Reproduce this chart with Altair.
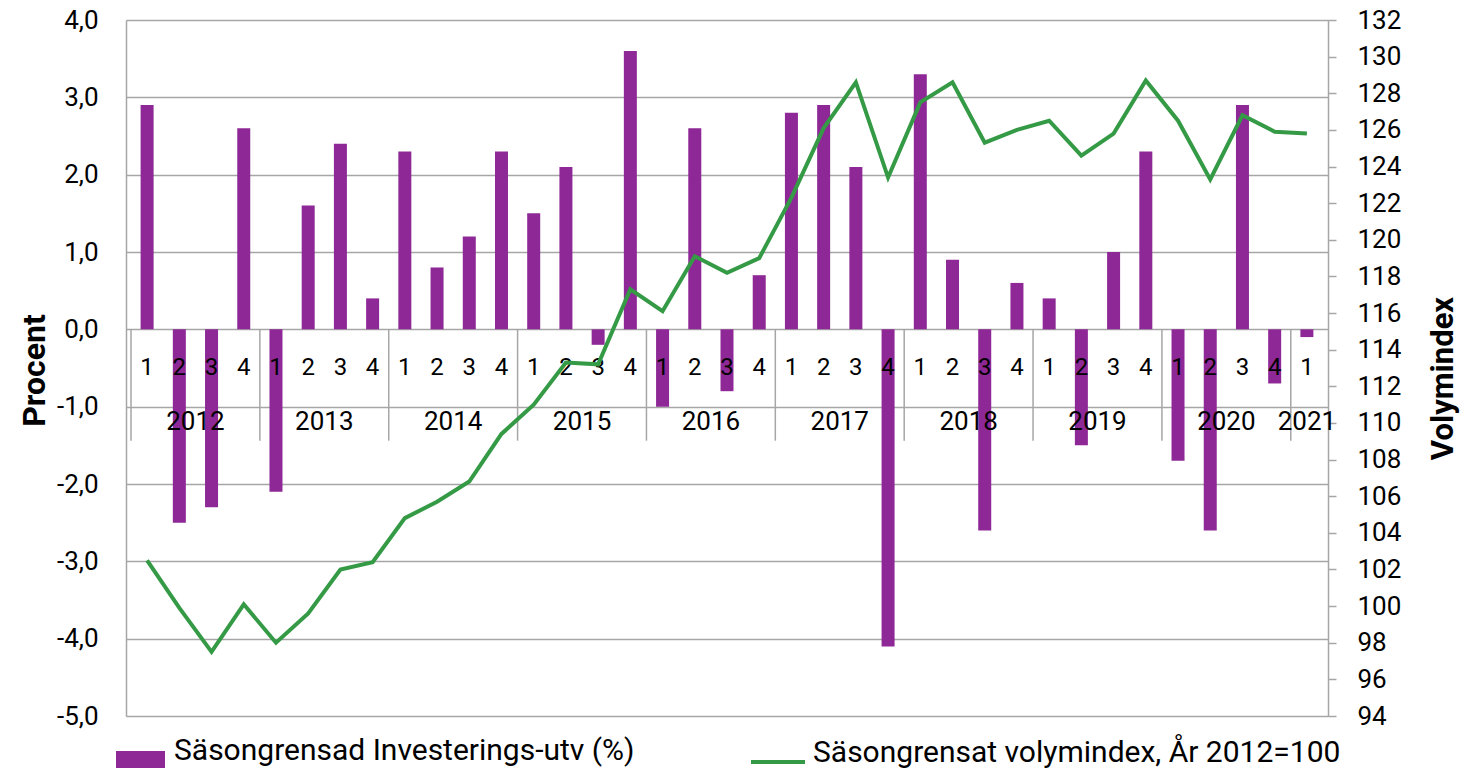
import altair as alt
import pandas as pd

quarter_labels = ["1", "2", "3", "4", "1", "2", "3", "4", "1", "2", "3", "4",
                  "1", "2", "3", "4", "1", "2", "3", "4", "1", "2", "3", "4",
                  "1", "2", "3", "4", "1", "2", "3", "4", "1", "2", "3", "4", "1"]
quarter_years = [2012, 2012, 2012, 2012, 2013, 2013, 2013, 2013, 2014, 2014, 2014, 2014,
                 2015, 2015, 2015, 2015, 2016, 2016, 2016, 2016, 2017, 2017, 2017, 2017,
                 2018, 2018, 2018, 2018, 2019, 2019, 2019, 2019, 2020, 2020, 2020, 2020, 2021]
invest = [2.9, -2.5, -2.3, 2.6, -2.1, 1.6, 2.4, 0.4, 2.3, 0.8, 1.2, 2.3,
          1.5, 2.1, -0.2, 3.6, -1.0, 2.6, -0.8, 0.7, 2.8, 2.9, 2.1, -4.1,
          3.3, 0.9, -2.6, 0.6, 0.4, -1.5, 1.0, 2.3, -1.7, -2.6, 2.9, -0.7, -0.1]
volym = [102.5, 99.9, 97.5, 100.1, 98.0, 99.6, 102.0, 102.4, 104.8, 105.7, 106.8, 109.4,
         111.0, 113.3, 113.2, 117.3, 116.1, 119.1, 118.2, 119.0, 122.3, 126.1, 128.6, 123.4,
         127.5, 128.6, 125.3, 126.0, 126.5, 124.6, 125.8, 128.7, 126.5, 123.3, 126.8, 125.9, 125.8]
left_ticks = [-5, -4, -3, -2, -1, 0, 1, 2, 3, 4]
right_ticks = [94, 96, 98, 100, 102, 104, 106, 108, 110, 112, 114, 116, 118, 120,
               122, 124, 126, 128, 130, 132]

BAR_NAME = "Säsongrensad Investerings-utv (%)"
LINE_NAME = "Säsongrensat volymindex, År 2012=100"
PURPLE = "#8E2896"
GREEN = "#359A45"
GRID = "#A6A6A6"
FONT = "Roboto"

n = len(invest)
df = pd.DataFrame({
    "idx": list(range(n)),
    "q": quarter_labels,
    "year": quarter_years,
    "invest": invest,
    "volym": volym,
    "bar_series": [BAR_NAME] * n,
    "line_series": [LINE_NAME] * n,
})

# year groups: centre and left boundary
yrs = []
for y in sorted(set(quarter_years)):
    ids = [i for i, yy in enumerate(quarter_years) if yy == y]
    yrs.append({"year": str(y), "center": sum(ids) / len(ids), "start": ids[0] - 0.5})
ydf = pd.DataFrame(yrs)

xscale = alt.Scale(domain=[-0.5, n - 0.5], nice=False, zero=False)
lscale = alt.Scale(domain=[-5, 4], nice=False, zero=False)
rscale = alt.Scale(domain=[94, 132], nice=False, zero=False)

label_expr = "(datum.value < 0 ? '-' : '') + replace(format(abs(datum.value), '.1f'), '.', ',')"

left_axis = alt.Axis(values=left_ticks, labelExpr=label_expr, grid=True,
                     gridColor=GRID, gridWidth=1.5, domain=True, domainColor=GRID,
                     domainWidth=1.5, ticks=False, labelPadding=28,
                     labelFontSize=26, labelFont=FONT, labelColor="black",
                     title="Procent", titleFont=FONT, titleFontSize=32,
                     titleFontWeight="bold", titleColor="black",
                     titleX=-92, titleY=350, titleAngle=270,
                     titleAlign="center", titleBaseline="middle")

bars = alt.Chart(df).mark_bar(size=13).encode(
    x=alt.X("idx:Q", scale=xscale, axis=None),
    y=alt.Y("invest:Q", scale=lscale, axis=left_axis),
    color=alt.Color("bar_series:N", scale=alt.Scale(domain=[BAR_NAME], range=[PURPLE]),
                    legend=alt.Legend(title=None, orient="none", legendX=-10, legendY=706.5,
                                      symbolType="M-1,0.0L1,0.0L1,0.73L-1,0.73Z",
                                      symbolSize=2401, symbolStrokeWidth=0,
                                      labelFontSize=30, labelFont=FONT, labelColor="black",
                                      labelOffset=9, labelLimit=800)),
)

seps = alt.Chart(ydf).mark_rule(color=GRID, strokeWidth=1.5).encode(
    x=alt.X("start:Q", scale=xscale, axis=None),
    y=alt.Y("y0:Q", scale=lscale, axis=left_axis),
    y2="y1:Q",
).transform_calculate(y0="0", y1="-1.44")

qtext = alt.Chart(df).mark_text(fontSize=24, font=FONT, color="black", baseline="middle").encode(
    x=alt.X("idx:Q", scale=xscale, axis=None),
    y=alt.Y("yq:Q", scale=lscale, axis=left_axis),
    text="q:N",
).transform_calculate(yq="-0.5")

ytext = alt.Chart(ydf).mark_text(fontSize=26, font=FONT, color="black", baseline="middle").encode(
    x=alt.X("center:Q", scale=xscale, axis=None),
    y=alt.Y("yy:Q", scale=lscale, axis=left_axis),
    text="year:N",
).transform_calculate(yy="-1.2")

left = alt.layer(bars, seps, qtext, ytext)

line = alt.Chart(df).mark_line(strokeWidth=4).encode(
    x=alt.X("idx:Q", scale=xscale, axis=None),
    y=alt.Y("volym:Q", scale=rscale,
            axis=alt.Axis(orient="right", values=right_ticks, grid=False, domain=True,
                          domainColor=GRID, domainWidth=1.5, ticks=True, tickColor=GRID,
                          tickWidth=1.5, tickSize=8, labelPadding=21, labelFontSize=26,
                          labelFont=FONT, labelColor="black",
                          title="Volymindex", titleFont=FONT, titleFontSize=31,
                          titleFontWeight="bold", titleColor="black",
                          titleX=115, titleY=358, titleAngle=270,
                          titleAlign="center", titleBaseline="middle")),
    stroke=alt.Stroke("line_series:N", scale=alt.Scale(domain=[LINE_NAME], range=[GREEN]),
                      legend=alt.Legend(title=None, orient="none", legendX=623, legendY=704,
                                        symbolType="M-1,0.33L1,0.33", symbolSize=2916,
                                        symbolStrokeWidth=4, symbolStrokeColor=GREEN,
                                        labelFontSize=30, labelFont=FONT, labelColor="black",
                                        labelOffset=6, labelLimit=800)),
)

chart = alt.layer(left, line).resolve_scale(y="independent", color="independent").properties(
    width=1202, height=696,
    autosize=alt.AutoSizeParams(type="none"),
    padding={"left": 118, "top": 12, "right": 132, "bottom": 52},
).configure_view(stroke=None).configure(background="white")

chart.save("out.html", embed_options={"renderer": "svg", "actions": False})
